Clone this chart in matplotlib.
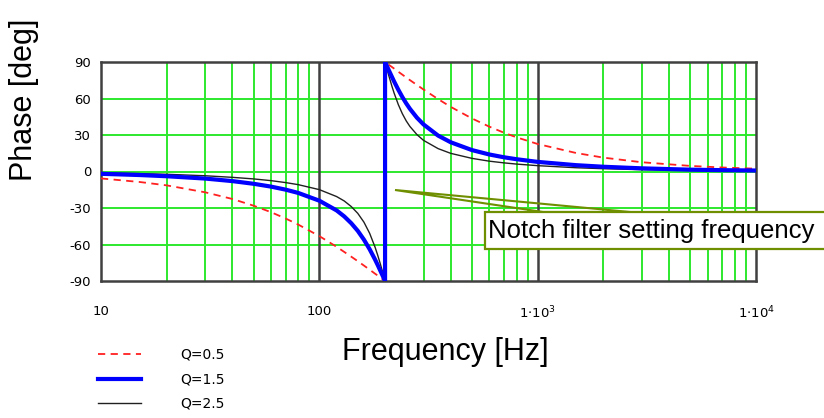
import matplotlib
matplotlib.use("Agg")
from matplotlib import pyplot as plt
from matplotlib.patches import Polygon, Rectangle
import numpy as np

# frequencies [Hz] (notch at 200 Hz, jump drawn twice)
freq = [10, 15, 20, 30, 40, 50, 60, 70, 80, 100, 120, 130, 140, 150, 160,
        170, 180, 185, 190, 193, 196, 198, 200, 200, 202, 204, 207, 210, 215,
        220, 230, 240, 250, 260, 280, 300, 350, 400, 500, 600, 700, 800,
        1000, 1500, 2000, 3000, 5000, 7000, 10000]

# phase [deg] for each Q
phase_q05 = [-5.7, -8.6, -11.4, -17.1, -22.6, -28.1, -33.4, -38.6, -43.6,
             -53.1, -61.9, -66.1, -70.0, -73.7, -77.3, -80.7, -84.0, -85.5,
             -87.1, -88.0, -88.8, -89.4, -90, 90, 89.4, 88.9, 88.0, 87.2, 85.9,
             84.6, 82.0, 79.6, 77.3, 75.1, 71.1, 67.4, 59.5, 53.1, 43.6, 36.9,
             31.9, 28.1, 22.6, 15.2, 11.4, 7.6, 4.6, 3.3, 2.3]
phase_q15 = [-1.9, -2.9, -3.9, -5.8, -7.9, -10.1, -12.4, -14.9, -17.6,
             -24.0, -32.0, -36.9, -42.5, -48.8, -56.0, -63.9, -72.4, -76.8,
             -81.3, -83.9, -86.5, -88.3, -90, 90, 88.3, 86.6, 84.1, 81.7, 77.8,
             74.0, 67.2, 61.2, 56.0, 51.5, 44.2, 38.7, 29.5, 24.0, 17.6, 14.0,
             11.7, 10.1, 7.9, 5.2, 3.9, 2.6, 1.5, 1.1, 0.8]
phase_q25 = [-1.2, -1.7, -2.3, -3.5, -4.8, -6.1, -7.5, -9.1, -10.8,
             -14.9, -20.6, -24.2, -28.8, -34.4, -41.6, -50.8, -62.2, -68.7,
             -75.6, -79.9, -84.2, -87.1, -90, 90, 87.2, 84.4, 80.2, 76.3, 70.1,
             64.5, 55.0, 47.5, 41.6, 37.0, 30.3, 25.6, 18.8, 14.9, 10.8, 8.5,
             7.1, 6.1, 4.8, 3.1, 2.3, 1.5, 0.9, 0.7, 0.5]

yticks = [90, 60, 30, 0, -30, -60, -90]
xticks = [10, 100, 1000, 10000]
xticklabels = ["10", "100", r"1$\cdot$10$^{3}$", r"1$\cdot$10$^{4}$"]

W, H = 824, 418
fig = plt.figure(figsize=(W / 100, H / 100), dpi=100)
ax = fig.add_axes([101 / W, 1 - 281 / H, (756 - 101) / W, (281 - 62) / H])

ax.set_xscale("log")
ax.set_xlim(10, 10000)
ax.set_ylim(-90, 90)

# green grid
green = "#2ee82e"
minor = [m * d for d in (10, 100, 1000) for m in range(2, 10)]
for f in minor:
    ax.axvline(f, color=green, lw=1.4, zorder=1)
for y in yticks[1:-1]:
    ax.axhline(y, color=green, lw=1.4, zorder=1)
for f in (100, 1000):
    ax.axvline(f, color="#404040", lw=1.8, zorder=1.5)

ax.plot(freq, phase_q05, color="#ff2020", lw=1.3, dashes=(4, 3), label="Q=0.5", zorder=3)
ax.plot(freq, phase_q25, color="#202020", lw=1.0, label="Q=2.5", zorder=3)
ax.plot(freq, phase_q15, color="#0000ff", lw=3.0, label="Q=1.5", zorder=4)

for s in ax.spines.values():
    s.set_color("#404040")
    s.set_linewidth(1.8)

tickfont = "DejaVu Sans"
ax.set_yticks(yticks)
ax.set_yticklabels([str(v) for v in yticks], family=tickfont, fontsize=9.5)
ax.set_xticks(xticks)
ax.set_xticklabels(xticklabels, family=tickfont, fontsize=9.5)
ax.minorticks_off()
ax.tick_params(axis="y", length=0, pad=7)
ax.tick_params(axis="x", length=0, pad=17)

fig.text(24 / W, 1 - 100 / H, "Phase [deg]", rotation=90, family="Liberation Sans",
         fontsize=22, ha="center", va="center")
fig.text(445 / W, 1 - 352 / H, "Frequency [Hz]", family="Liberation Sans",
         fontsize=22, ha="center", va="center")

# callout
olive = "#6f8f00"
wedge = Polygon([(395 / W, 1 - 190 / H), (543 / W, 1 - 212 / H), (630 / W, 1 - 212 / H)],
                closed=True, transform=fig.transFigure, facecolor="none",
                edgecolor=olive, lw=1.5, zorder=5)
fig.add_artist(wedge)
box = Rectangle((485 / W, 1 - 249 / H), 400 / W, 37 / H, transform=fig.transFigure,
                facecolor="white", edgecolor=olive, lw=1.6, zorder=6)
fig.add_artist(box)
fig.text(488 / W, 1 - 231 / H, "Notch filter setting frequency", family="Liberation Sans",
         fontsize=18.5, ha="left", va="center", zorder=7)

handles, labels = ax.get_legend_handles_labels()
order = [0, 2, 1]
fig.legend([handles[i] for i in order], [labels[i] for i in order],
           loc="upper left", bbox_to_anchor=(98 / W, 1 - 348 / H),
           frameon=False, borderpad=0, borderaxespad=0,
           handlelength=3.1, handletextpad=2.8, labelspacing=0.75,
           prop={"family": tickfont, "size": 10})

fig.savefig("out.png", dpi=100)
